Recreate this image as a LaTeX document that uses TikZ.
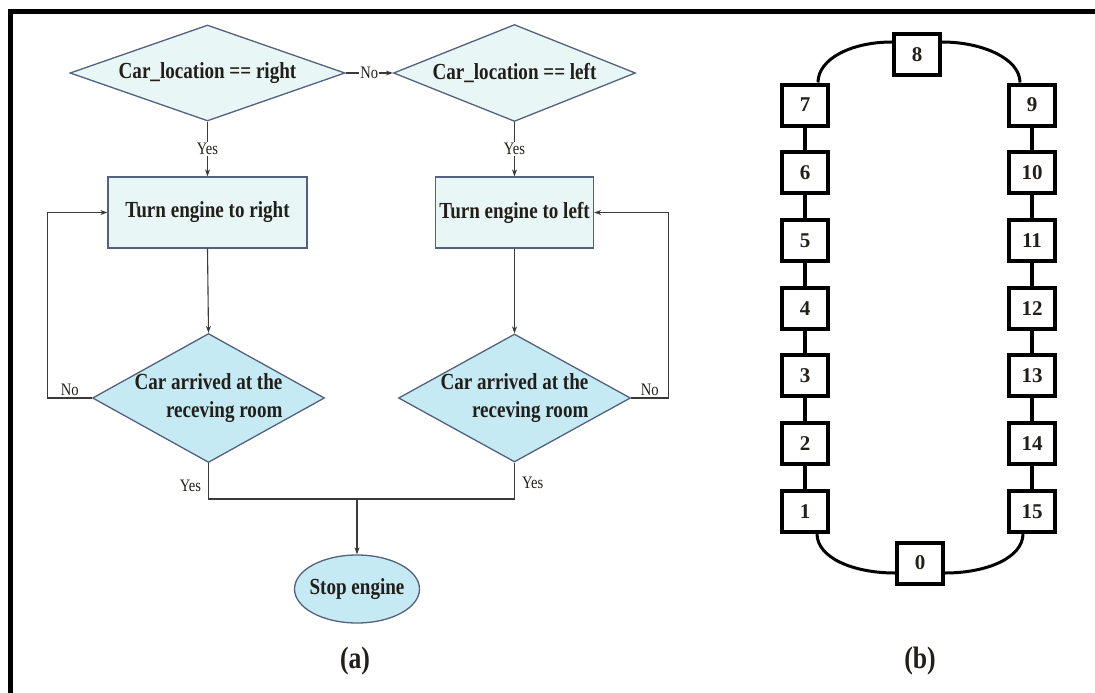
\documentclass[tikz,border=0pt]{standalone}
\usepackage{fontspec}
\setmainfont{Liberation Serif}
\newfontfamily\flowfont{Liberation Serif}[FakeStretch=0.83]
\usetikzlibrary{shapes.geometric,arrows.meta,calc}

\definecolor{paleFill}{HTML}{E8F6F5}
\definecolor{blueFill}{HTML}{C6EAF3}
\definecolor{shapeLine}{HTML}{53617F}
\definecolor{flowLine}{HTML}{3A3A3A}
\definecolor{inkText}{HTML}{221E1A}

\begin{document}
\begin{tikzpicture}[x=1pt,y=-1pt,
  every node/.style={text=inkText},
  shapefont/.style={font=\flowfont\bfseries\fontsize{23}{28}\selectfont},
  notefont/.style={font=\flowfont\fontsize{17.5}{17.5}\selectfont},
  decide/.style={diamond, draw=shapeLine, line width=1.3pt, inner sep=0pt, shapefont},
  action/.style={rectangle, draw=shapeLine, line width=1.3pt, fill=paleFill,
    minimum height=71pt, inner sep=0pt, shapefont},
  finish/.style={ellipse, draw=shapeLine, line width=1.3pt, fill=blueFill,
    inner sep=0pt, shapefont},
  flow/.style={draw=flowLine, line width=1.1pt, -{Stealth[length=7pt,width=5pt]}},
  plain/.style={draw=flowLine, line width=1.1pt},
  onlabel/.style={notefont, fill=white, inner sep=1pt},
  sidelabel/.style={notefont, inner sep=2pt},
  cell/.style={rectangle, draw=black, line width=4pt, fill=white,
    minimum width=46pt, minimum height=41pt, inner sep=0pt,
    font=\bfseries\fontsize{21}{21}\selectfont},
  link/.style={draw=black, line width=4pt},
  arc/.style={draw=black, line width=3pt},
  caption/.style={font=\flowfont\bfseries\fontsize{31}{31}\selectfont}
]
\useasboundingbox (0,0) rectangle (1095,693);

% outer frame
\draw[line width=5pt] (10,693) -- (10,12) -- (1095,12);

% ---------------- (a) flowchart ----------------
\node[decide, fill=paleFill, aspect=2.86, minimum width=275pt, minimum height=96pt]
  (qr) at (207.5,73) {Car\_location == right};
\node[decide, fill=paleFill, aspect=2.5, minimum width=242pt, minimum height=97pt]
  (ql) at (514.5,73) {Car\_location == left};

\node[action, minimum width=199pt] (tr) at (207.5,212.5) {Turn engine to right};
\node[action, minimum width=158pt] (tl) at (514.5,212.5) {Turn engine to left};

\node[decide, fill=blueFill, aspect=1.8, minimum width=232pt, minimum height=129pt]
  (ar) at (208.5,398) {\makebox[0pt]{\raisebox{-4pt}{\begin{tabular}{@{}r@{}}Car arrived at the\\receving room\end{tabular}}}};
\node[decide, fill=blueFill, aspect=1.8, minimum width=232pt, minimum height=128pt]
  (al) at (514.5,398) {\makebox[0pt]{\raisebox{-4pt}{\begin{tabular}{@{}r@{}}Car arrived at the\\receving room\end{tabular}}}};

\node[finish, minimum width=125pt, minimum height=68pt] (stop) at (357,589)
  {\makebox[0pt]{Stop engine}};

\coordinate (merge) at (357,499);

\draw[flow] (qr.east) -- node[onlabel] {No} (ql.west);
\draw[flow] (qr.south) -- node[onlabel] {Yes} (tr.north);
\draw[flow] (ql.south) -- node[onlabel] {Yes} (tl.north);
\draw[flow] (tr.south) -- (ar.north);
\draw[flow] (tl.south) -- (al.north);

\draw[flow] (ar.west) -- node[sidelabel, above] {No} ++(-44,0) |- (tr.west);
\draw[flow] (al.east) -- node[sidelabel, above] {No} ++(37,0) |- (tl.east);

\draw[plain] (ar.south) -- node[sidelabel, left=5pt, pos=0.62] {Yes} (ar.south |- merge) -- (merge);
\draw[plain] (al.south) -- node[sidelabel, right=5pt, pos=0.55] {Yes} (al.south |- merge) -- (merge);
\draw[flow] (merge) -- (stop.north);

\node[caption] (capa) at (355,661) {(a)};

% ---------------- (b) ring of stations ----------------
\foreach \n [count=\k from 0] in {7,6,5,4,3,2,1}
  \node[cell] (b\n) at (805,105+67.7*\k) {\n};
\foreach \n [count=\k from 0] in {9,10,11,12,13,14,15}
  \node[cell] (b\n) at (1032,105+67.7*\k) {\n};
\node[cell] (b8) at (917,55) {8};
\node[cell] (b0) at (920,563) {0};

\foreach \a/\b in {7/6,6/5,5/4,4/3,3/2,2/1,9/10,10/11,11/12,12/13,13/14,14/15}
  \draw[link] (b\a) -- (b\b);

\draw[arc] ($(b7.north)+(13,0)$) .. controls +(0,-24) and +(-40,0) .. ($(b8.west)+(0,-13)$);
\draw[arc] ($(b9.north)+(-12,0)$) .. controls +(0,-24) and +(40,0) .. ($(b8.east)+(0,-13)$);
\draw[arc] ($(b1.south)+(12,0)$) .. controls +(0,24) and +(-42,0) .. ($(b0.west)+(0,10)$);
\draw[arc] ($(b15.south)+(-9,0)$) .. controls +(0,24) and +(42,0) .. ($(b0.east)+(0,10)$);

\node[caption] (capb) at (920,661) {(b)};
\end{tikzpicture}
\end{document}
